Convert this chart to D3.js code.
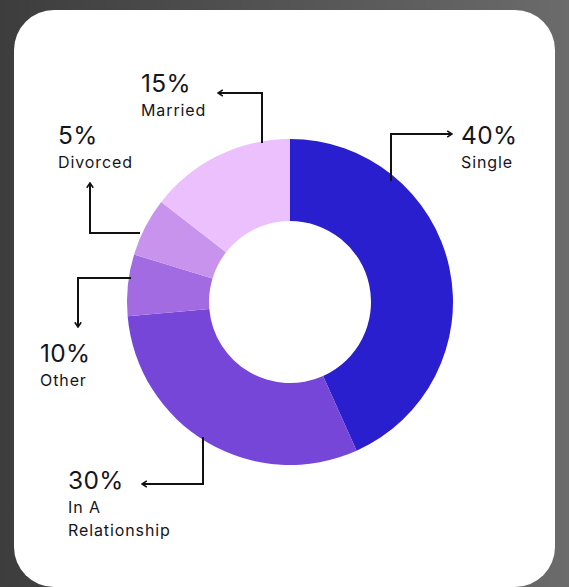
<!DOCTYPE html>
<html>
<head>
<meta charset="utf-8">
<script src="https://cdn.jsdelivr.net/npm/d3@7"></script>
<style>
  html, body { margin: 0; padding: 0; overflow: hidden; }
  svg { display: block; }
</style>
</head>
<body>
<script>
// chart data
var categories = ["Single", "In A Relationship", "Other", "Divorced", "Married"];
var shares = [43.3, 30.3, 6.1, 5.8, 14.5];            // slice sizes as drawn
var percentLabels = ["40%", "30%", "10%", "5%", "15%"];
var colors = ["#2a1fcf", "#7546d8", "#a26be2", "#c893ec", "#ebc0fd"];

var width = 569, height = 587;
var cx = 290, cy = 302;
var outerR = 163, innerR = 81;

var svg = d3.select("body")
	.append("svg")
	.attr("width", width)
	.attr("height", height);

var defs = svg.append("defs");
var grad = defs.append("linearGradient")
	.attr("id", "bg")
	.attr("x1", "0").attr("x2", "1").attr("y1", "0").attr("y2", "0");
grad.append("stop").attr("offset", "0").attr("stop-color", "#3d3d3d");
grad.append("stop").attr("offset", "1").attr("stop-color", "#6b6b6b");

defs.append("marker")
	.attr("id", "arrow")
	.attr("viewBox", "0 0 10 10")
	.attr("refX", 9).attr("refY", 5)
	.attr("markerWidth", 8).attr("markerHeight", 8)
	.attr("markerUnits", "userSpaceOnUse")
	.attr("orient", "auto")
	.append("path")
	.attr("d", "M3,1 L9,5 L3,9")
	.style("fill", "none")
	.style("stroke", "#111")
	.style("stroke-width", 2);

svg.append("rect")
	.attr("width", width).attr("height", height)
	.style("fill", "url(#bg)");

// white card
svg.append("rect")
	.attr("x", 14).attr("y", 10)
	.attr("width", 541).attr("height", 577)
	.attr("rx", 40).attr("ry", 40)
	.style("fill", "#ffffff");

var pie = d3.pie().sort(null).value(function(d) { return d; });
var arc = d3.arc().innerRadius(innerR).outerRadius(outerR);

var g = svg.append("g")
	.attr("transform", "translate(" + cx + "," + cy + ")");

g.selectAll("path.slice")
	.data(pie(shares))
	.enter()
	.append("path")
	.attr("class", "slice")
	.attr("d", arc)
	.style("fill", function(d, i) { return colors[i]; })
	.style("stroke", "none");

// callout layout: elbow lines and text positions, one per category
var callouts = [
	{ line: [[391, 181], [391, 134], [452, 134]], x: 461, y: 144 },
	{ line: [[203, 437], [203, 484], [142, 484]], x: 68, y: 489 },
	{ line: [[131, 278], [78, 278], [78, 327]], x: 40, y: 362 },
	{ line: [[140, 233], [90, 233], [90, 183]], x: 58, y: 144 },
	{ line: [[262, 143], [262, 93], [218, 93]], x: 141, y: 92 }
];

var line = d3.line();

callouts.forEach(function(c, i) {
	svg.append("path")
		.attr("d", line(c.line))
		.style("fill", "none")
		.style("stroke", "#111")
		.style("stroke-width", 2)
		.attr("marker-end", "url(#arrow)");

	var t = svg.append("text")
		.attr("x", c.x)
		.attr("y", c.y)
		.style("font-family", "Inter, 'Noto Sans', sans-serif")
		.style("fill", "#15151d");

	t.append("tspan")
		.attr("x", c.x)
		.style("font-size", "24.5px")
		.style("letter-spacing", "0.3px")
		.text(percentLabels[i]);

	var words = categories[i] === "In A Relationship" ? ["In A", "Relationship"] : [categories[i]];
	words.forEach(function(w) {
		t.append("tspan")
			.attr("x", c.x)
			.attr("dy", 23.5)
			.style("font-size", "16px")
			.style("letter-spacing", "0.9px")
			.text(w);
	});
});
</script>
</body>
</html>
